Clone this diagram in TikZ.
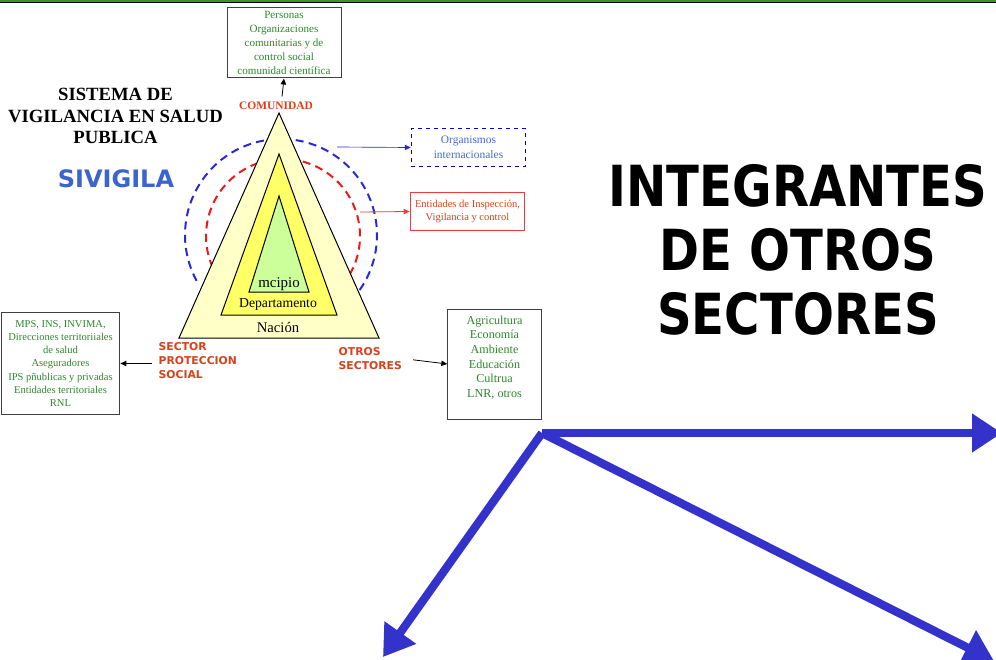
\documentclass[tikz,border=0pt]{standalone}
\usepackage{fontspec}
\setmainfont{Liberation Serif}
\newfontfamily\rotulo{DejaVu Sans}
\newfontfamily\titulo[FakeStretch=0.85]{DejaVu Sans}
\usetikzlibrary{arrows.meta, calc, positioning}

\definecolor{verdetexto}{RGB}{45,135,45}
\definecolor{verderaya}{RGB}{60,150,30}
\definecolor{rojoletra}{RGB}{215,65,25}
\definecolor{azulraya}{RGB}{40,40,215}
\definecolor{rojoraya}{RGB}{240,25,25}
\definecolor{azulsiv}{RGB}{60,100,205}
\definecolor{azulorg}{RGB}{70,105,210}
\definecolor{azulfuerte}{RGB}{51,51,204}
\definecolor{nacion}{RGB}{255,255,200}
\definecolor{depto}{RGB}{255,255,102}
\definecolor{muni}{RGB}{204,255,153}

\begin{document}
\begin{tikzpicture}[
            x=0.75pt, y=-0.75pt,
            flecha/.style={-{Triangle[length=4.5pt, width=4pt]}, line width=0.6pt},
            caja/.style={draw=black!75, line width=0.75pt, align=center, inner sep=0pt, text=verdetexto},
            sector/.style={anchor=west, align=left, text=rojoletra, font=\rotulo\bfseries\fontsize{8.1}{10.5}\selectfont},
            circulo/.style={line width=1.5pt, dash pattern=on 6pt off 4pt},
            gruesa/.style={azulfuerte, line width=6.2pt, -{Triangle[length=22.5pt, width=27.75pt]}}
        ]
        \useasboundingbox (0,0) rectangle (996,660);

        % Top rule
        \draw[verderaya, line width=0.9pt] (0,1) -- (996,1);
        \draw[black, line width=1pt] (0,2.7) -- (996,2.7);

        % Title
        \node[align=center, font=\bfseries\fontsize{14}{16.1}\selectfont] (sistema) at (115.5,116) {SISTEMA DE\\VIGILANCIA EN SALUD\\PUBLICA};
        \node[anchor=base, text=azulsiv, font=\rotulo\bfseries\fontsize{18}{21}\selectfont] (sivigila) at (116,187) {SIVIGILA};

        % Dashed circles behind the pyramid
        \draw[circulo, azulraya] (281,235) ++(35:96) arc[start angle=35, end angle=-210, radius=96];
        \draw[circulo, rojoraya] (283,236) ++(30:77) arc[start angle=30, end angle=-202, radius=77];

        % Pyramid
        \draw[fill=nacion, line width=0.75pt] (279,113) -- (379,338) -- (179,338) -- cycle;
        \draw[fill=depto, line width=0.75pt] (279,154) -- (337,315) -- (221,315) -- cycle;
        \draw[fill=muni, line width=0.75pt] (279,196) -- (309,292) -- (249,292) -- cycle;

        \node[anchor=base, font=\fontsize{11.2}{13}\selectfont] (mcipio) at (279,287) {mcipio};
        \node[anchor=base, font=\fontsize{10.3}{12}\selectfont] (departamento) at (278,307) {Departamento};
        \node[anchor=base, font=\fontsize{11}{13}\selectfont] (nacion) at (278,332) {Nación};
        \node[anchor=base, text=rojoletra, font=\bfseries\fontsize{8.6}{10}\selectfont] (comunidad) at (276,109) {COMUNIDAD};

        % Boxes
        \node[caja, minimum width=85.5pt, minimum height=52.5pt, font=\fontsize{8.3}{10.5}\selectfont] (personas) at (284,43)
            {Personas\\Organizaciones\\comunitarias y de\\control social\\comunidad científica};
        \node[caja, draw=blue!80!black, dashed, line width=0.6pt, text=azulorg, minimum width=86pt, minimum height=28pt,
            font=\fontsize{8.6}{11.2}\selectfont] (organismos) at (468.5,147.5) {Organismos\\internacionales};
        \node[caja, draw=rojoraya!85, text=rojoletra, minimum width=86pt, minimum height=28pt,
            font=\fontsize{7.9}{9.8}\selectfont] (entidades) at (467.5,211.5) {Entidades de Inspección,\\Vigilancia y control};
        \node[caja, minimum width=89pt, minimum height=76.5pt, font=\fontsize{7.9}{9.8}\selectfont] (salud) at (60.5,363.5)
            {MPS, INS, INVIMA,\\Direcciones territoriiales\\de salud\\Aseguradores\\IPS pñublicas y privadas\\Entidades territoriales\\RNL};
        \node[caja, minimum width=70pt, minimum height=82.5pt, font=\fontsize{9.1}{11}\selectfont] (agricultura) at (494.5,364)
            {Agricultura\\Economía\\Ambiente\\Educación\\Cultrua\\LNR, otros\\\mbox{}};

        \node[sector] (proteccion) at (154,361) {SECTOR\\PROTECCION\\SOCIAL};
        \node[sector] (otros) at (334,359) {OTROS\\SECTORES};

        % Connectors
        \draw[flecha] ($(comunidad.north)+(6,0)$) -- (personas.south);
        \coordinate (azul) at (337,147);
        \draw[flecha, azulraya, line width=0.5pt] (azul) -- (organismos.west);
        \coordinate (rojo) at (360,212);
        \draw[flecha, rojoraya!85, line width=0.6pt] (rojo) -- (entidades.west);
        \draw[flecha, shorten <=1.5pt] (proteccion.west |- salud.east) -- (salud.east);
        \draw[flecha, shorten <=5pt] (otros.east) -- (agricultura.west);

        % Big title
        \node[align=center, font=\titulo\bfseries\fontsize{42.5}{48}\selectfont] (integrantes) at (798,250) {INTEGRANTES\\DE OTROS\\SECTORES};

        % Big arrows
        \coordinate (nudo) at (542,433);
        \coordinate (este) at (1002,433);
        \coordinate (sureste) at (994,661);
        \coordinate (suroeste) at (383,657);
        \draw[gruesa] (nudo) -- (este);
        \draw[gruesa] (nudo) -- (sureste);
        \draw[gruesa] (nudo) -- (suroeste);
    \end{tikzpicture}
\end{document}
